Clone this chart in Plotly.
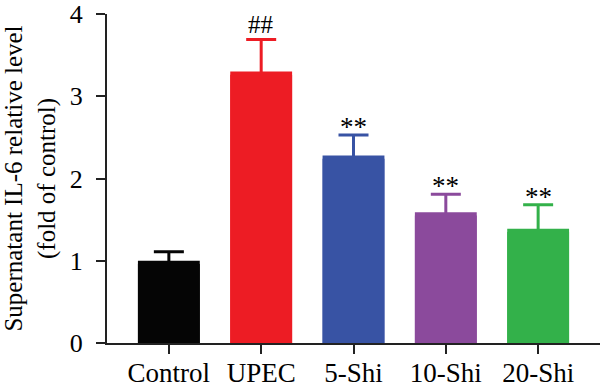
import plotly.graph_objects as go

categories = ["Control", "UPEC", "5-Shi", "10-Shi", "20-Shi"]
values = [1.0, 3.30, 2.28, 1.59, 1.39]
errors = [0.11, 0.39, 0.25, 0.22, 0.29]
colors = ["#050505", "#ED1C24", "#3853A4", "#8B4A9C", "#33B14A"]
marks = ["", "##", "**", "**", "**"]
y_ticks = [0, 1, 2, 3, 4]

FONT = "Liberation Serif"
SINK = 0.04  # hide the lower cap of the error bar inside the bar

fig = go.Figure()
# error bars (lower cap hidden beneath the bars drawn afterwards)
for c, v, e, col in zip(categories, values, errors, colors):
    fig.add_trace(go.Bar(
        x=[c], y=[v - SINK],
        marker=dict(color=col, line=dict(width=0)),
        error_y=dict(type="data", array=[e + SINK], arrayminus=[0], symmetric=False,
                     color=col, thickness=3, width=15),
        showlegend=False, hoverinfo="skip",
    ))
# bars
for c, v, col in zip(categories, values, colors):
    fig.add_trace(go.Bar(
        x=[c], y=[v],
        marker=dict(color=col, line=dict(width=0)),
        showlegend=False,
    ))

for c, v, e, m in zip(categories, values, errors, marks):
    if m:
        fig.add_annotation(x=c, y=v + e, text=m, showarrow=False,
                           yanchor="bottom", yshift=(0 if m == "##" else -9),
                           font=dict(family=FONT, size=(25 if m == "##" else 27),
                                     color="black"))

fig.update_layout(
    width=600, height=391,
    margin=dict(l=107, r=0, t=14, b=48),
    paper_bgcolor="white", plot_bgcolor="white",
    barmode="overlay",
    bargap=0.33,
    font=dict(family=FONT, size=25, color="black"),
    xaxis=dict(
        showline=True, linecolor="#222", linewidth=2,
        ticks="outside", ticklen=9, tickwidth=2, tickcolor="#222",
        range=[-0.67, 4.67],
        ticklabelstandoff=-4,
        tickfont=dict(family=FONT, size=27, color="black"),
    ),
    yaxis=dict(
        showline=True, linecolor="#222", linewidth=2,
        ticks="outside", ticklen=9, tickwidth=2, tickcolor="#222",
        range=[0, 4], tickvals=y_ticks, showgrid=False, zeroline=False,
        ticklabelstandoff=8,
        tickfont=dict(family=FONT, size=26, color="black"),
        title=dict(text="Supernatant IL-6 relative level<br>(fold of control)",
                   font=dict(family=FONT, size=25, color="black"), standoff=9),
    ),
)

fig.write_html("out.html", config={"displayModeBar": False},
               post_script="document.body.style.margin='0';")
